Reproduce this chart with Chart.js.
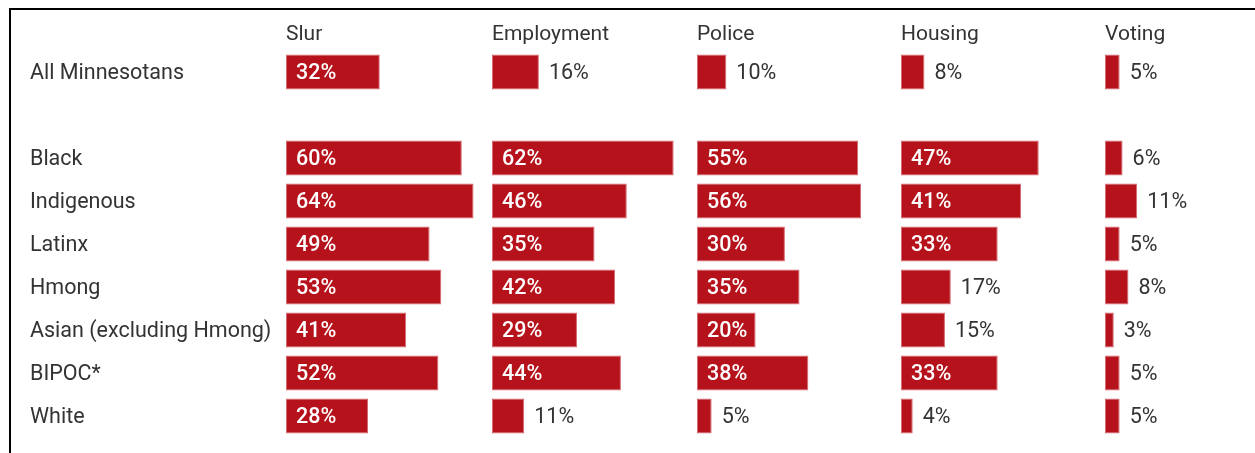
<!DOCTYPE html>
<html>
<head>
<meta charset="utf-8">
<script src="https://cdn.jsdelivr.net/npm/chart.js@4.4.1/dist/chart.umd.min.js"></script>
<style>
  html, body { margin: 0; padding: 0; background: #fff; overflow: hidden; }
  body { width: 1255px; height: 453px; position: relative; }
  .frame {
    position: absolute; left: 9px; top: 8px; width: 1300px; height: 500px;
    border-left: 2px solid #000; border-top: 2px solid #000;
  }
  canvas { position: absolute; top: 0; }
</style>
</head>
<body>
<div class="frame"></div>
<canvas id="col0" width="461" height="453" style="left:30px"></canvas>
<canvas id="col1" width="205" height="453" style="left:492px"></canvas>
<canvas id="col2" width="205" height="453" style="left:697px"></canvas>
<canvas id="col3" width="205" height="453" style="left:901px"></canvas>
<canvas id="col4" width="205" height="453" style="left:1105px"></canvas>
<script>
// groeps-rijen (lege rij = witruimte onder "All Minnesotans")
const groups = ['All Minnesotans', '', 'Black', 'Indigenous', 'Latinx', 'Hmong',
  'Asian (excluding Hmong)', 'BIPOC*', 'White'];

const headers = ['Slur', 'Employment', 'Police', 'Housing', 'Voting'];

// percentages per soort discriminatie
const slur       = [32, null, 60, 64, 49, 53, 41, 52, 28];
const employment = [16, null, 62, 46, 35, 42, 29, 44, 11];
const police     = [10, null, 55, 56, 30, 35, 20, 38, 5];
const housing    = [8,  null, 47, 41, 33, 17, 15, 33, 4];
const voting     = [5,  null, 6,  11, 5,  8,  3,  5,  5];

const series = [slur, employment, police, housing, voting];

const RED = '#b5121b';
const TEXT = '#333333';
const FONT = 'Roboto, "Noto Sans", sans-serif';

// percentage in de balk (wit) of ernaast (donker) als de balk te kort is
const valueLabels = {
  id: 'valueLabels',
  afterDatasetsDraw(chart) {
    const { ctx } = chart;
    const meta = chart.getDatasetMeta(0);
    const data = chart.data.datasets[0].data;
    ctx.save();
    ctx.textBaseline = 'middle';
    ctx.textAlign = 'left';
    meta.data.forEach((bar, i) => {
      const v = data[i];
      if (v == null) return;
      if (v >= 20) {
        ctx.fillStyle = '#ffffff';
        ctx.font = '500 21.5px ' + FONT;
        ctx.fillText(v + '%', bar.base + 10, bar.y + 1.5);
      } else {
        ctx.fillStyle = TEXT;
        ctx.font = '21.5px ' + FONT;
        ctx.fillText(v + '%', bar.x + 10, bar.y + 1.5);
      }
    });
    ctx.restore();
  }
};

function makeColumn(idx) {
  const first = idx === 0;
  const ctx = document.getElementById('col' + idx).getContext('2d');
  // alleen de eerste kolom toont de groepsnamen
  const yScale = first ? {
    grid: { display: false },
    border: { display: false },
    ticks: {
      crossAlign: 'far',
      padding: 0,
      labelOffset: 1.5,
      color: TEXT,
      font: { family: FONT, size: 21.5 },
    },
    afterFit: (scale) => { scale.width = 256; },
  } : { display: false };

  return new Chart(ctx, {
    type: 'bar',
    data: {
      labels: groups,
      datasets: [{
        data: series[idx],
        backgroundColor: RED,
        borderColor: '#d56a70',
        borderWidth: 1,
        borderSkipped: false,
        barPercentage: 35 / 43,
        categoryPercentage: 1,
      }],
    },
    options: {
      indexAxis: 'y',
      responsive: false,
      animation: false,
      devicePixelRatio: 1,
      layout: { padding: { left: 0, right: 16, top: 0, bottom: 15.5 } },
      plugins: {
        legend: { display: false },
        tooltip: { enabled: false },
        title: {
          display: true,
          text: headers[idx],
          align: 'start',
          fullSize: false,
          color: TEXT,
          font: { family: FONT, size: 21, weight: 'normal', lineHeight: 1.2 },
          padding: { top: 22, bottom: 3.3 },
        },
      },
      scales: {
        x: { display: false, min: 0, max: 64.5 },
        y: yScale,
      },
    },
    plugins: [valueLabels],
  });
}

headers.forEach((_, i) => makeColumn(i));
</script>
</body>
</html>
